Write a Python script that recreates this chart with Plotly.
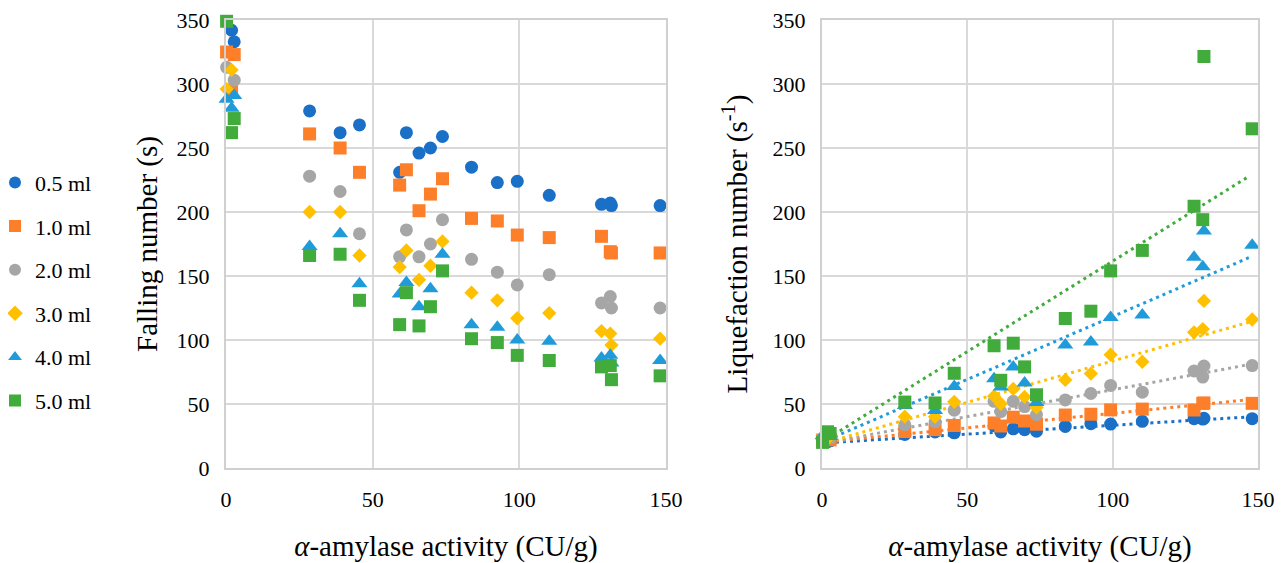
import plotly.graph_objects as go

# ---------------- data ----------------
activity = [0.2, 1.9, 2.8, 28.5, 38.9, 45.5, 59.2, 61.5, 65.8, 69.7, 73.8,
            83.7, 92.5, 99.3, 110.2, 128.0, 131.0, 131.4, 148.0]

series_names = ["0.5 ml", "1.0 ml", "2.0 ml", "3.0 ml", "4.0 ml", "5.0 ml"]

# Falling number (s)
fn_05 = [None, 342, 333, 279, 262, 268, 231, 262, 246, 250, 259, 235, 223, 224, 213, 206, 207, 205, 205]
fn_10 = [325, 295, 323, 261, 250, 231, 221, 233, 201, 214, 226, 195, 193, 182, 180, 181, 169, 168, 168]
fn_20 = [313, None, 303, 228, 216, 183, 165, 186, 165, 175, 194, 163, 153, 143, 151, 129, 134, 125, 125]
fn_30 = [296, 311, None, 200, 200, 166, 157, 170, 147, 158, 177, 137, 131, 117, 121, 107, 105, 96, 101]
fn_40 = [288, 281, 291, 173, 183, 144, 136, 145, 126, 140, 167, 112, 110, 100, 99, 86, 88, 82, 84]
fn_50 = [349, 262, 273, 166, 167, 131, 112, 137, 111, 126, 154, 101, 98, 88, 84, 79, 80, 69, 72]

# Liquefaction number (s^-1)
ln_05 = [None, 20.5, 21.2, 26.2, 28.2, 27.5, 33.0, 28.2, 30.6, 29.9, 28.7, 32.5, 34.6, 34.3, 36.5, 38.5, 38.2, 38.8, 38.5]
ln_10 = [21.8, 24.5, 22.0, 28.5, 30.0, 33.2, 35.2, 32.8, 39.7, 36.7, 34.2, 41.4, 42.0, 45.4, 46.0, 45.3, 50.5, 50.8, 50.5]
ln_20 = [22.8, None, 23.7, 33.8, 36.1, 45.2, 52.1, 44.1, 52.1, 48.0, 41.7, 53.2, 58.2, 64.5, 59.2, 75.8, 71.0, 79.7, 80.0]
ln_30 = [24.4, 23.0, None, 40.1, 40.1, 51.7, 56.1, 50.2, 61.8, 55.5, 47.3, 68.8, 73.8, 88.5, 83.0, 106.0, 108.5, 130.5, 116.0]
ln_40 = [25.2, 26.0, 24.9, 48.8, 45.0, 63.6, 69.8, 63.3, 78.9, 66.4, 51.2, 96.0, 98.5, 117.5, 119.5, 164.6, 157.3, 185.2, 174.0]
ln_50 = [20.0, 28.3, 26.9, 51.5, 50.8, 74.0, 95.5, 68.5, 97.5, 79.0, 57.2, 116.8, 122.5, 154.0, 170.0, 204.5, 194.0, 321.5, 265.0]

# dotted linear trendlines
trend_intercept = [19.5, 20.0, 19.1, 19.0, 20.1, 20.3]
trend_slope = [0.139, 0.227, 0.420, 0.646, 0.982, 1.413]
trend_x = [0, 147]

x_ticks = [0, 50, 100, 150]
y_ticks = [0, 50, 100, 150, 200, 250, 300, 350]

# ---------------- styles ----------------
colors = ["#1a6fc6", "#fd7f2a", "#a6a6a6", "#ffc000", "#1f9bda", "#41ab3c"]
symbols = ["circle", "square", "circle", "diamond", "triangle-up", "square"]
sizes = [13, 13, 13, 11, 14, 13]

FONT = "Liberation Serif"

fn_all = [fn_05, fn_10, fn_20, fn_30, fn_40, fn_50]
ln_all = [ln_05, ln_10, ln_20, ln_30, ln_40, ln_50]

fig = go.Figure()
for i, name in enumerate(series_names):
    fig.add_trace(go.Scatter(
        x=activity, y=fn_all[i], mode="markers", name=name,
        legendgroup=name, showlegend=True, cliponaxis=False,
        marker=dict(color=colors[i], symbol=symbols[i], size=sizes[i], line=dict(width=0)),
        xaxis="x", yaxis="y"))

for i, name in enumerate(series_names):
    ty = [trend_intercept[i] + trend_slope[i] * xv for xv in trend_x]
    fig.add_trace(go.Scatter(
        x=trend_x, y=ty, mode="lines", showlegend=False, legendgroup=name,
        line=dict(color=colors[i], width=3, dash="3px,4px"),
        hoverinfo="skip", xaxis="x2", yaxis="y2"))

for i, name in enumerate(series_names):
    fig.add_trace(go.Scatter(
        x=activity, y=ln_all[i], mode="markers", name=name,
        legendgroup=name, showlegend=False, cliponaxis=False,
        marker=dict(color=colors[i], symbol=symbols[i], size=sizes[i], line=dict(width=0)),
        xaxis="x2", yaxis="y2"))

W, H = 1284, 563
OFF = 8  # page body margin
ydom = [1 - (468 - OFF) / H, 1 - (20 - OFF) / H]

axis_common = dict(
    showgrid=True, gridcolor="#d9d9d9", gridwidth=2,
    zeroline=False, showline=True, linecolor="#d0d0d0", linewidth=2, mirror=True,
    ticks="", automargin=False, ticklabeloverflow="allow",
    tickfont=dict(family=FONT, size=22, color="#000"),
)
xtitle = "<i>α</i>-amylase activity (CU/g)"
tfont = dict(family=FONT, size=29, color="#000")

fig.update_layout(
    width=W, height=H,
    margin=dict(l=0, r=0, t=0, b=0, autoexpand=False),
    paper_bgcolor="white", plot_bgcolor="white",
    font=dict(family=FONT, color="#000"),
    showlegend=True,
    legend=dict(x=-13 / W, y=0.727, xanchor="left", yanchor="top",
                font=dict(family=FONT, size=22, color="#000"),
                tracegroupgap=12, itemsizing="constant",
                bgcolor="rgba(0,0,0,0)"),
    xaxis=dict(domain=[(226 - OFF) / W, (666 - OFF) / W], range=[0, 150], tickvals=x_ticks,
               anchor="y", ticklabelstandoff=11,
               title=dict(text=xtitle, font=tfont, standoff=24),
               **axis_common),
    yaxis=dict(domain=ydom, range=[0, 350], tickvals=y_ticks, anchor="x",
               ticklabelstandoff=10,
               title=dict(text="Falling number (s)", font=tfont, standoff=10),
               **axis_common),
    xaxis2=dict(domain=[(822 - OFF) / W, (1258 - OFF) / W], range=[0, 150], tickvals=x_ticks,
                anchor="y2", ticklabelstandoff=11,
                title=dict(text=xtitle, font=tfont, standoff=24),
                **axis_common),
    yaxis2=dict(domain=ydom, range=[0, 350], tickvals=y_ticks, anchor="x2",
                ticklabelstandoff=10,
                title=dict(text="Liquefaction number (s<sup>-1</sup>)", font=tfont, standoff=16),
                **axis_common),
)

fig.write_html("out.html")
